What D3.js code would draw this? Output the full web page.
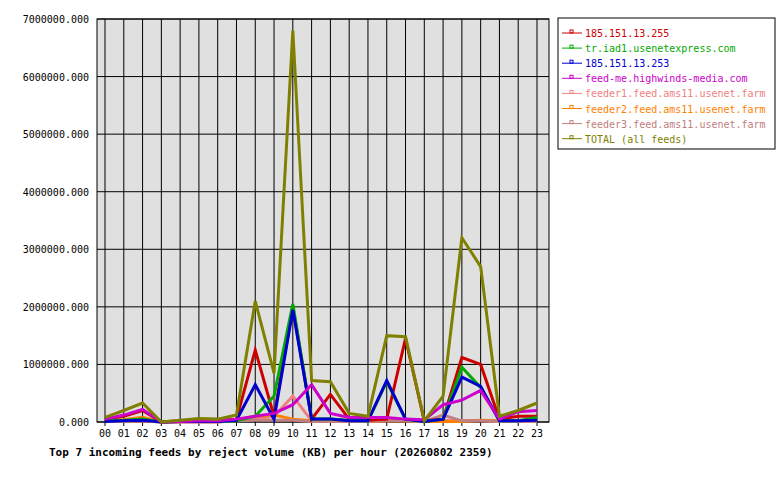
<!DOCTYPE html><html><head><script src="https://cdn.jsdelivr.net/npm/d3@7"></script>
<style>body{margin:0;background:#fff}text{font-family:"DejaVu Sans Mono",monospace;font-size:10px}</style></head><body>
<svg id="c" width="780" height="480"></svg>
<script>
const hours=["00","01","02","03","04","05","06","07","08","09","10","11","12","13","14","15","16","17","18","19","20","21","22","23"];
const names=["185.151.13.255","tr.iad1.usenetexpress.com","185.151.13.253","feed-me.highwinds-media.com","feeder1.feed.ams11.usenet.farm","feeder2.feed.ams11.usenet.farm","feeder3.feed.ams11.usenet.farm","TOTAL (all feeds)"];
const colors=["#cc0000","#00aa00","#0000cc","#cc00cc","#f08080","#ff8000","#c08080","#808000"];
const s0=[0.05,0.1,0.2,0,0.02,0.03,0.02,0.05,1.25,0.1,2.0,0.05,0.48,0.05,0.03,0.05,1.45,0.02,0.05,1.12,1.0,0.05,0.1,0.1];
const s1=[0.02,0.03,0.05,0,0.01,0.01,0.01,0.02,0.1,0.45,2.05,0.05,0.05,0.03,0.02,0.7,0.05,0.01,0.05,0.95,0.6,0.02,0.02,0.08];
const s2=[0.01,0.02,0.03,0,0.01,0.01,0.01,0.03,0.65,0.05,1.95,0.05,0.05,0.02,0.02,0.72,0.05,0.01,0.05,0.78,0.62,0.02,0.02,0.03];
const s3=[0.05,0.12,0.22,0,0.01,0.02,0.02,0.05,0.1,0.15,0.3,0.65,0.15,0.08,0.08,0.08,0.05,0.04,0.3,0.38,0.55,0.05,0.18,0.2];
const s4=[0.01,0.01,0.02,0,0,0,0,0.03,0.05,0.1,0.45,0.02,0.02,0.01,0.01,0.02,0.02,0.01,0.03,0.02,0.02,0.01,0.01,0.01];
const s5=[0.02,0.04,0.08,0,0.01,0.01,0.01,0.04,0.1,0.12,0.05,0.02,0.03,0.02,0.01,0.02,0.02,0.01,0.01,0.01,0.03,0.02,0.01,0.01];
const s6=[0.01,0.01,0.02,0,0,0,0,0.02,0.03,0.03,0.03,0.01,0.01,0.01,0.01,0.02,0.02,0.01,0.12,0.02,0.02,0.01,0.01,0.01];
const s7=[0.08,0.2,0.33,0,0.03,0.06,0.05,0.12,2.1,0.85,6.8,0.72,0.7,0.15,0.1,1.5,1.48,0.02,0.45,3.2,2.7,0.1,0.2,0.33];
const series=[s0,s1,s2,s3,s4,s5,s6,s7];
const yTicks=[0,1,2,3,4,5,6,7];
const svg=d3.select("#c");
const L=97,R=549,T=19,B=422;
const x=d3.scalePoint().domain(hours).range([105,537]);
const y=d3.scaleLinear().domain([0,7]).range([B,T]);
svg.append("rect").attr("x",L).attr("y",T).attr("width",R-L).attr("height",B-T).attr("fill","#e0e0e0").attr("stroke","#000");
hours.forEach(h=>svg.append("line").attr("x1",x(h)).attr("x2",x(h)).attr("y1",T).attr("y2",B+4).attr("stroke","#000"));
yTicks.forEach(v=>{svg.append("line").attr("x1",L).attr("x2",R).attr("y1",y(v)).attr("y2",y(v)).attr("stroke","#000");
 svg.append("text").attr("x",L-8).attr("y",y(v)+4).attr("text-anchor","end").text((v*1000000).toFixed(3));});
hours.forEach(h=>svg.append("text").attr("x",x(h)).attr("y",B+15).attr("text-anchor","middle").text(h));
const line=d3.line().x((d,i)=>x(hours[i])).y(d=>y(d));
[4,5,6,0,1,2,3,7].forEach(k=>svg.append("path").attr("d",line(series[k])).attr("fill","none").attr("stroke",colors[k]).attr("stroke-width",3));
svg.append("text").attr("x",49).attr("y",456).attr("font-weight","bold").style("font-size","11px").text("Top 7 incoming feeds by reject volume (KB) per hour (20260802 2359)");
svg.append("rect").attr("x",558).attr("y",18).attr("width",217).attr("height",131).attr("fill","#fff").attr("stroke","#000");
names.forEach((n,i)=>{const yy=33+i*15.1;
 svg.append("line").attr("x1",562).attr("x2",582).attr("y1",yy).attr("y2",yy).attr("stroke",colors[i]);
 svg.append("rect").attr("x",570).attr("y",yy-3).attr("width",3).attr("height",3).attr("fill","none").attr("stroke",colors[i]);
 svg.append("text").attr("x",585).attr("y",yy+4).attr("fill",colors[i]).text(n);});
</script></body></html>
